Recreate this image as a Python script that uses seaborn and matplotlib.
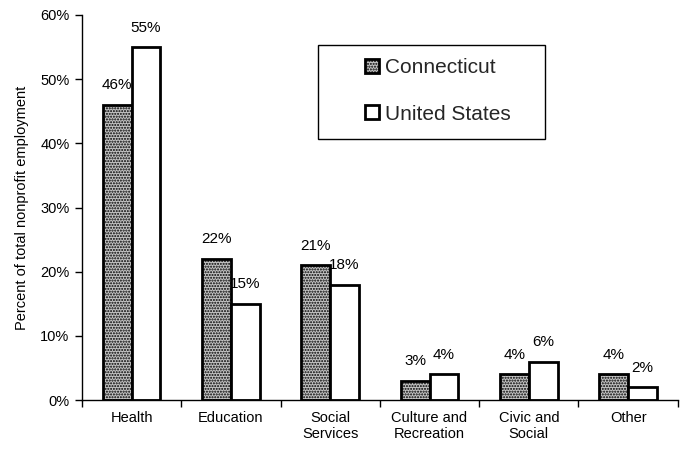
import matplotlib
matplotlib.use("Agg")
import matplotlib.pyplot as plt
import seaborn as sns
import pandas as pd
from matplotlib.patches import Rectangle
from matplotlib.ticker import FixedLocator, FuncFormatter

categories = ["Health", "Education", "Social\nServices", "Culture and\nRecreation",
              "Civic and\nSocial", "Other"]
connecticut = [46, 22, 21, 3, 4, 4]
united_states = [55, 15, 18, 4, 6, 2]
series_names = ["Connecticut", "United States"]

df = pd.DataFrame({
    "category": categories * 2,
    "value": connecticut + united_states,
    "region": [series_names[0]] * len(categories) + [series_names[1]] * len(categories),
})

sns.set_theme(style="white")
plt.rcParams["font.family"] = ["Liberation Sans", "DejaVu Sans"]
plt.rcParams["hatch.linewidth"] = 1.0

fig = plt.figure(figsize=(6.86, 4.5), dpi=100)
ax = fig.add_axes([0.1195, 0.111, 0.8685, 0.8557])

sns.barplot(data=df, x="category", y="value", hue="region", hue_order=series_names,
            order=categories, width=0.58, gap=0, ax=ax, legend=False, errorbar=None)

styles = {
    0: dict(facecolor="#c4c4c4", hatch="......", edgecolor="black"),
    1: dict(facecolor="white", hatch=None, edgecolor="black"),
}
for i, cont in enumerate(ax.containers):
    for bar in cont.patches:
        bar.set_facecolor(styles[i]["facecolor"])
        bar.set_edgecolor(styles[i]["edgecolor"])
        bar.set_linewidth(2.0)
        if styles[i]["hatch"]:
            bar.set_hatch(styles[i]["hatch"])
    ax.bar_label(cont, labels=[f"{int(v)}%" for v in cont.datavalues],
                 padding=9, fontsize=11, color="black")

ax.set_xlim(-0.5, len(categories) - 0.5)
ax.set_ylim(0, 60)
ax.yaxis.set_major_locator(FixedLocator(range(0, 61, 10)))
ax.yaxis.set_major_formatter(FuncFormatter(lambda v, p: f"{int(v)}%"))

ax.xaxis.set_minor_locator(FixedLocator([i - 0.5 for i in range(len(categories) + 1)]))
ax.tick_params(axis="x", which="major", length=0, pad=8, labelsize=10.5, colors="black")
ax.tick_params(axis="x", which="minor", length=5, width=1, direction="out",
               color="black", bottom=True)
ax.tick_params(axis="y", which="major", length=5, width=1, direction="out",
               left=True, labelsize=10.5, colors="black", pad=4)

ax.set_xlabel("")
ax.set_ylabel("Percent of total nonprofit employment", fontsize=10.5, color="black", labelpad=8)

for side in ["top", "right"]:
    ax.spines[side].set_visible(False)
for side in ["left", "bottom"]:
    ax.spines[side].set_color("black")
    ax.spines[side].set_linewidth(1.0)

# legend box drawn as a plain rectangle, entries placed inside it
box = Rectangle((0.396, 0.678), 0.381, 0.244, transform=ax.transAxes,
                facecolor="white", edgecolor="black", linewidth=1.0, zorder=5)
ax.add_patch(box)
handles = [ax.containers[0].patches[0], ax.containers[1].patches[0]]
leg = ax.legend(handles, series_names, loc="upper left",
                bbox_to_anchor=(0.475, 0.887), fontsize=15, frameon=False,
                handlelength=0.67, handleheight=0.67, handletextpad=0.29,
                labelspacing=1.3, borderpad=0, borderaxespad=0)
leg.set_zorder(6)

fig.savefig("out.png", dpi=100, facecolor="white")
